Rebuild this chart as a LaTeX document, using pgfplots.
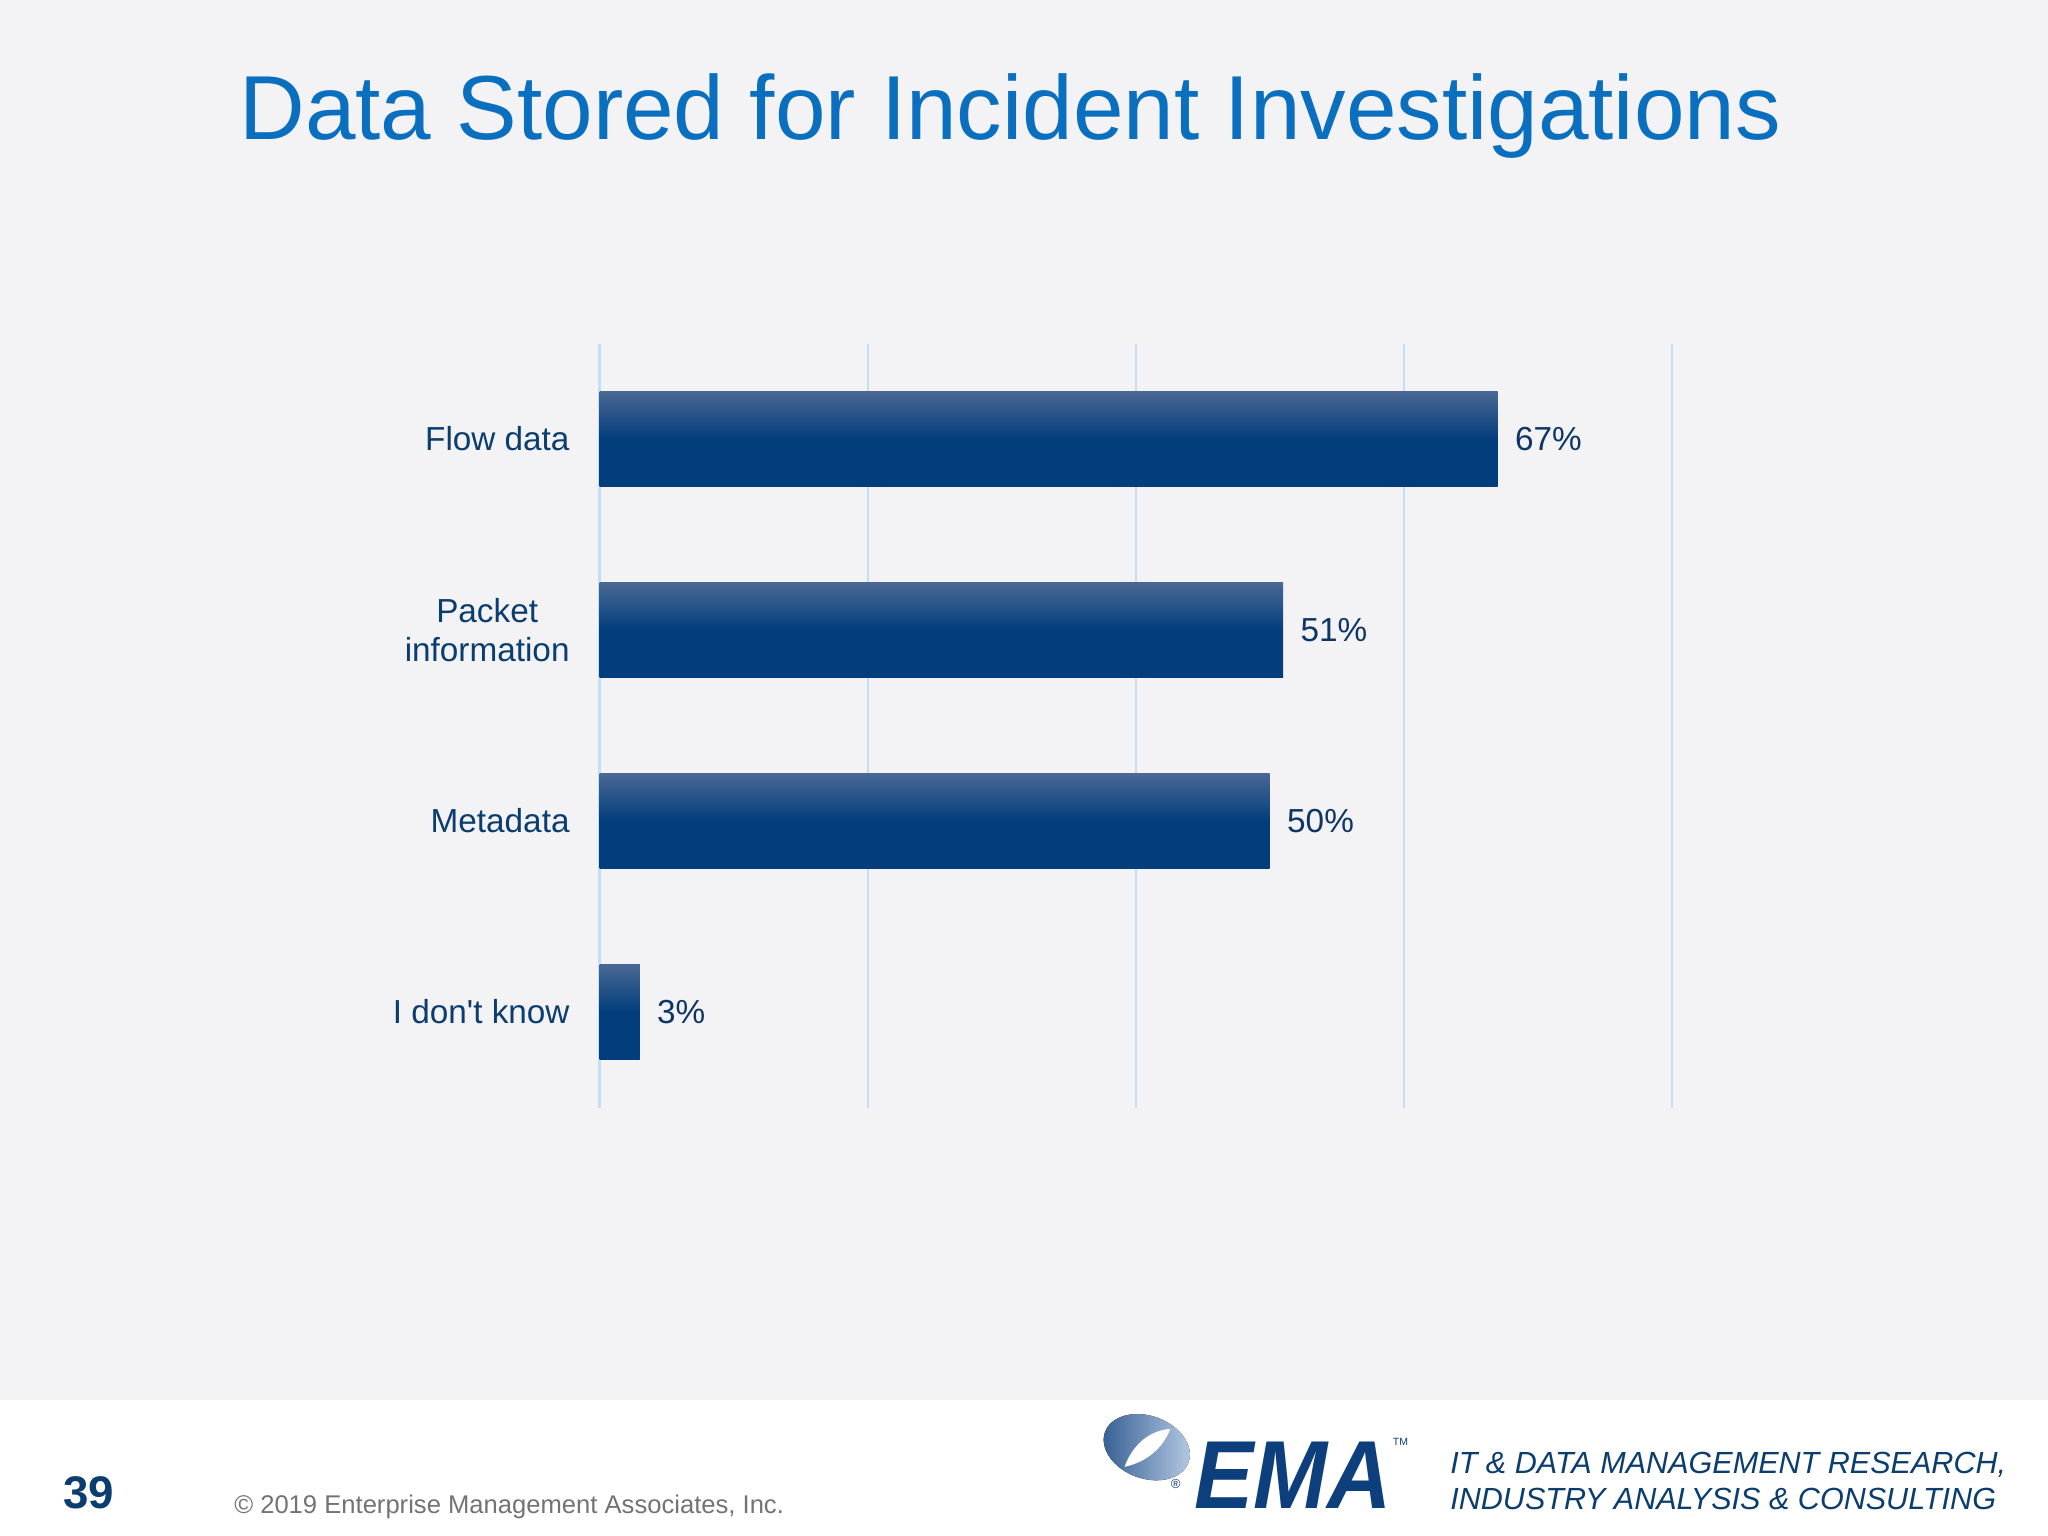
\documentclass[border=0pt]{standalone}
\usepackage{pgfplots}
\pgfplotsset{compat=1.18}
\usepackage{fontspec}
\setmainfont{Liberation Sans}
\definecolor{bgc}{HTML}{F3F3F5}
\definecolor{titleblue}{HTML}{0A6FBE}
\definecolor{labnavy}{HTML}{0B3D6E}
\definecolor{valnavy}{HTML}{0E3566}
\definecolor{bartop}{HTML}{4A6894}
\definecolor{barbot}{HTML}{023E7C}
\definecolor{gridc}{HTML}{C4DFF3}
\definecolor{emablue}{HTML}{0E3F7D}
\definecolor{emalight}{HTML}{B9CCE6}
\begin{document}
\begin{tikzpicture}
\fill[bgc] (0,0) rectangle (784pt,588pt);
\fill[white] (0,0) rectangle (784pt,52pt);
\begin{scope}[x=0.5pt,y=-0.5pt,shift={(0pt,588pt)}]
\node[anchor=base west,inner sep=0pt,text=titleblue,font=\fontsize{34.8}{40}\selectfont] at (183,106.5) {Data Stored for Incident Investigations};
\node[anchor=base west,inner sep=0pt,text=labnavy,font=\fontsize{17.5}{22}\selectfont\bfseries] at (48,1155) {39};
\node[anchor=base west,inner sep=0pt,text=black!55,font=\fontsize{9.8}{12}\selectfont] at (179,1159) {\textcopyright\ 2019 Enterprise Management Associates, Inc.};
\node[anchor=base west,inner sep=0pt,text=labnavy,font=\fontsize{11.7}{14}\selectfont\itshape,align=left] at (1110,1128) {IT \& DATA MANAGEMENT RESEARCH,};
\node[anchor=base west,inner sep=0pt,text=labnavy,font=\fontsize{11.7}{14}\selectfont\itshape,align=left] at (1110,1156) {INDUSTRY ANALYSIS \& CONSULTING};
\fill[rotate around={-20:(878,1108)},left color=emablue!85,right color=emalight] (878,1108) ellipse [x radius=34, y radius=24];
\fill[white] (861,1123) .. controls (868,1104) and (882,1095) .. (896,1094) .. controls (890,1110) and (876,1120) .. (861,1123) -- cycle;
\node[anchor=base west,inner sep=0pt,text=emablue,font=\fontsize{37}{40}\selectfont\bfseries\itshape] at (914,1155) {\scalebox{0.92}[1]{EMA}};
\node[anchor=base west,inner sep=0pt,text=emablue,font=\fontsize{4}{5}\selectfont] at (1066,1107) {TM};
\node[anchor=base west,inner sep=0pt,text=emablue,font=\fontsize{5}{5}\selectfont] at (896,1140) {\textregistered};
\end{scope}
\begin{axis}[
  at={(229.5pt,164pt)}, anchor=south west,
  scale only axis, width=410.5pt, height=292.5pt,
  xbar, bar width=0.5, bar shift=0pt,
  xmin=0, xmax=80, ymin=-0.5, ymax=3.5, y dir=reverse,
  xtick={0,20,40,60,80}, xticklabels={},
  ytick={0,1,2,3},
  yticklabels={Flow data,{Packet\\information},Metadata,I don\textquotesingle t know},
  yticklabel style={align=center, anchor=east, inner sep=0pt, xshift=-7pt, text=labnavy, font=\fontsize{12.75}{15}\selectfont},
  xmajorgrids, major grid style={gridc, line width=0.8pt},
  axis line style={draw=none}, major tick style={draw=none},
  /pgf/number format/assume math mode=true,
  nodes near coords={\pgfmathprintnumber{\pgfplotspointmeta}\%},
  nodes near coords style={anchor=west, inner sep=0pt, xshift=6.5pt, text=valnavy, font=\fontsize{12.75}{15}\selectfont},
  every axis plot/.append style={draw=none, top color=bartop, bottom color=barbot, middle color=barbot},
]
\addplot coordinates {(67,0)};
\addplot coordinates {(51,1)};
\addplot coordinates {(50,2)};
\addplot coordinates {(3,3)};
\end{axis}
\end{tikzpicture}
\end{document}
